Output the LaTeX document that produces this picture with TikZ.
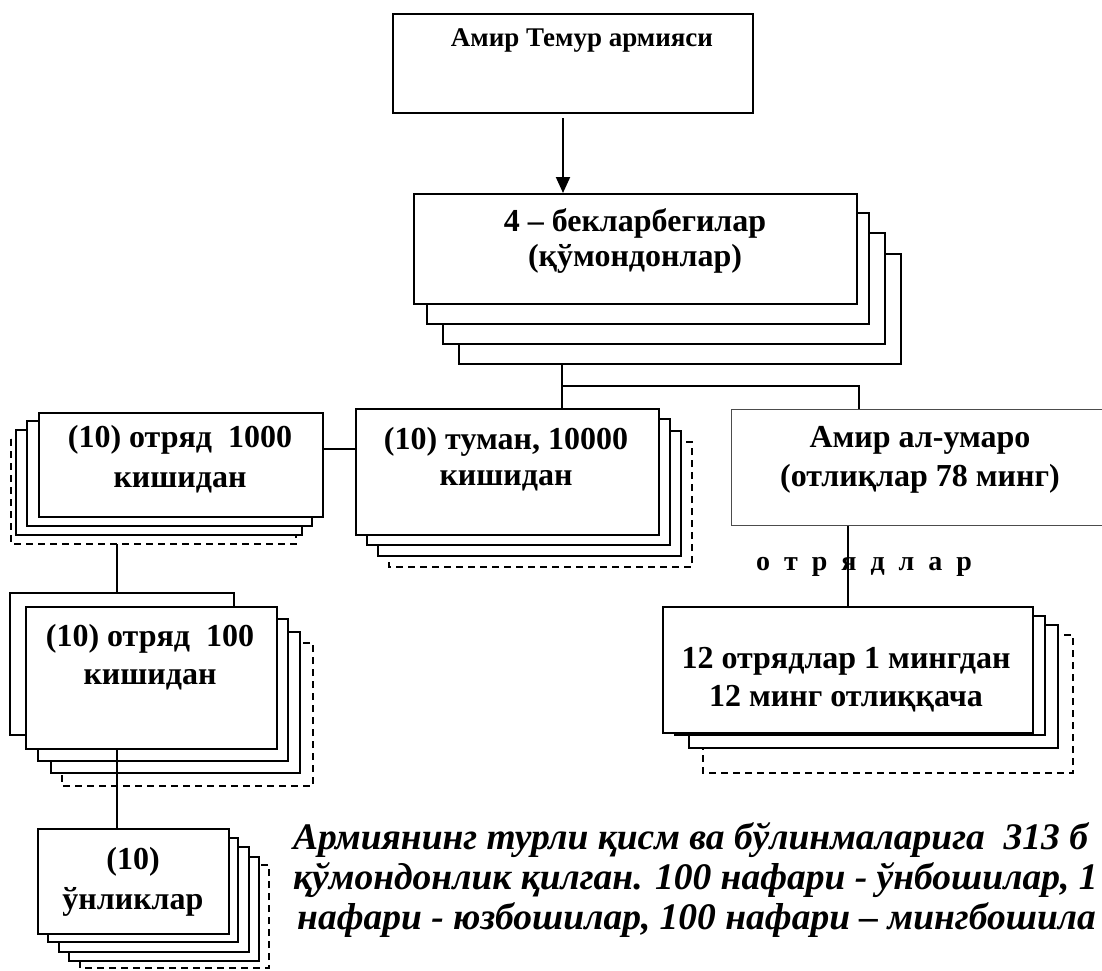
\documentclass[tikz,border=0pt]{standalone}
\usepackage{fontspec}
\setmainfont{Liberation Serif}
\usetikzlibrary{calc,arrows.meta,positioning}

\tikzset{
  box/.style={draw, line width=2pt, fill=white, anchor=north west, inner sep=0pt},
  layer/.style={draw, line width=2pt, fill=white},
  lastlayer/.style={draw, dash pattern=on 7pt off 5pt, line width=1.6pt, fill=white},
  txt/.style={align=center, inner sep=0pt, font=\bfseries\fontsize{32}{38}\selectfont},
  link/.style={line width=2pt},
}

\begin{document}
\begin{tikzpicture}[x=1pt,y=-1pt]
  \useasboundingbox (0,0) rectangle (1102,970);
  \clip (0,0) rectangle (1102,970);

  % army
  \node[box, minimum width=360pt, minimum height=99pt] (army) at (392,13) {};
  \node[txt, font=\bfseries\fontsize{27}{30}\selectfont] (armyT) at (582,40) {Амир Темур армияси};

  % beklarbegilar
  \draw[layer] (459,254) rectangle (901,364);
  \draw[layer] (443,233) rectangle (885,344);
  \draw[layer] (427,213) rectangle (869,324);
  \node[box, minimum width=443pt, minimum height=110pt] (beks) at (413,193) {};
  \node[txt, font=\bfseries\fontsize{32}{35}\selectfont] (beksT) at (635,241) {4 – бекларбегилар\\(қўмондонлар)};

  % otryad 1000
  \draw[lastlayer] (11,439) rectangle (296,544);
  \draw[layer] (16,430) rectangle (302,535);
  \draw[layer] (27,421) rectangle (312,526);
  \node[box, minimum width=284pt, minimum height=104pt] (ming) at (38,412) {};
  \node[txt, font=\bfseries\fontsize{32}{40}\selectfont] (mingT) at (180,459) {(10) отряд\ \ 1000\\кишидан};

  % tuman
  \draw[lastlayer] (389,442) rectangle (692,567);
  \draw[layer] (378,431) rectangle (681,556);
  \draw[layer] (367,419) rectangle (670,545);
  \node[box, minimum width=303pt, minimum height=126pt] (tuman) at (355,408) {};
  \node[txt, font=\bfseries\fontsize{32}{36}\selectfont] (tumanT) at (506,459) {(10) туман, 10000\\кишидан};

  % amir al-umaro
  \node[box, line width=1.2pt, draw=black!70, minimum width=380pt, minimum height=116pt] (amir) at (731,409) {};
  \node[txt, font=\bfseries\fontsize{32}{39}\selectfont] (amirT) at (920,460) {Амир ал-умаро\\(отлиқлар 78 минг)};

  % 12 otryadlar
  \draw[lastlayer] (703,635) rectangle (1073,773);
  \draw[layer] (689,625) rectangle (1058,748);
  \draw[layer] (675,616) rectangle (1045,735);
  \node[box, minimum width=370pt, minimum height=126pt] (otr) at (662,606) {};
  \node[txt] (otrT) at (846,680) {12 отрядлар 1 мингдан\\12 минг отлиққача};

  % otryad 100
  \draw[lastlayer] (62,643) rectangle (313,786);
  \draw[layer] (51,632) rectangle (300,773);
  \draw[layer] (38,619) rectangle (288,761);
  \node[box, minimum width=224pt, minimum height=142pt] (yuzback) at (9,592) {};
  \node[box, minimum width=251pt, minimum height=142pt] (yuz) at (25,606) {};
  \node[txt] (yuzT) at (150,657) {(10) отряд\ \ 100\\кишидан};

  % unliklar
  \draw[lastlayer] (80,865) rectangle (269,968);
  \draw[layer] (69,857) rectangle (259,961);
  \draw[layer] (59,847) rectangle (249,952);
  \draw[layer] (48,838) rectangle (238,942);
  \node[box, minimum width=191pt, minimum height=105pt] (un) at (37,828) {};
  \node[txt, font=\bfseries\fontsize{32}{40}\selectfont] (unT) at (133,882) {(10)\\ўнликлар};

  % connectors
  \coordinate (armyfoot) at (563,118);
  \draw[link, -{Triangle[length=16pt,width=14pt]}] (armyfoot) -- (armyfoot |- beks.north);
  \coordinate (bekfoot) at (562,364);
  \draw[link] (bekfoot) -- (bekfoot |- tuman.north);
  \coordinate (fork) at (562,386);
  \draw[link] (fork) -| ($(amir.north west)+(128,0)$);
  \draw[link] ($(ming.east)+(0,-16)$) -- ($(tuman.west)+(0,-23)$);
  \coordinate (mingfoot) at (117,544);
  \draw[link] (mingfoot) -- (mingfoot |- yuzback.north);
  \draw[link] ($(yuz.south west)+(92,0)$) -- ($(un.north west)+(80,0)$);
  \draw[link] (otr.north |- amir.south) -- (otr.north);
  \node[font=\bfseries\fontsize{28}{30}\selectfont, anchor=base, inner sep=0pt] (otrlbl) at (864,570)
    {о\hspace{14pt}т\hspace{14pt}р\hspace{14pt}я\hspace{14pt}д\hspace{14pt}л\hspace{14pt}а\hspace{14pt}р};

  % note
  \node[anchor=north west, align=left, inner sep=0pt, font=\bfseries\itshape\fontsize{37.5}{40}\selectfont] (note) at (293,822)
    {Армиянинг турли қисм ва бўлинмаларига\ \ 313 б\\қўмондонлик қилган. 100 нафари - ўнбошилар, 1\\\hspace*{4pt}нафари - юзбошилар, 100 нафари – мингбошила};
\end{tikzpicture}
\end{document}
